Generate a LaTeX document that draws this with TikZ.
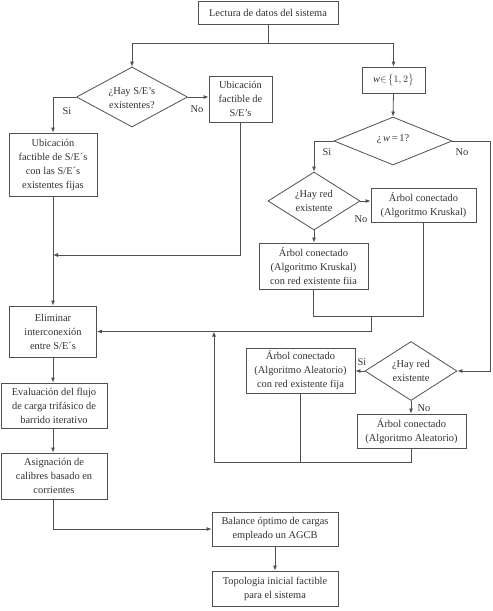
\documentclass[tikz,border=0pt]{standalone}
\usepackage{fontspec}
\setmainfont{Liberation Serif}
\usetikzlibrary{shapes.geometric,arrows.meta}
\newcommand{\myfs}{\fontsize{10.4}{14}\selectfont}
\definecolor{lc}{RGB}{80,80,80}
\definecolor{tc}{RGB}{50,50,50}
\tikzset{
  box/.style={draw=lc, line width=0.8pt, fill=white, text=tc, align=center, inner sep=0pt, font=\myfs},
  dia/.style={draw=lc, diamond, line width=0.8pt, inner sep=0pt, fill=white},
  lab/.style={text=tc, align=center, font=\myfs, inner sep=0pt},
  arr/.style={draw=lc, line width=0.8pt, -{Latex[length=5pt,width=4pt]}},
  ln/.style={draw=lc, line width=0.8pt},
}
\begin{document}
\begin{tikzpicture}[x=1pt,y=-1pt]
\useasboundingbox (0,0) rectangle (493,611);
% nodes
\node[box, minimum width=140pt, minimum height=23pt] (top) at (268,12.5) {Lectura de datos del sistema};
\node[dia, minimum width=111pt, minimum height=60pt] (d1) at (132,97) {};
\node[lab] (d1t) at (132,98) {¿Hay S/E’s\\existentes?};
\node[box, minimum width=63pt, minimum height=46pt] (ub) at (240.5,99) {Ubicación\\factible de\\S/E’s};
\node[box, minimum width=88pt, minimum height=63pt] (fija) at (53,164.5) {Ubicación\\factible de S/E´s\\con las S/E´s\\existentes fijas};
\node[box, minimum width=63pt, minimum height=26pt] (w) at (393.5,80) {\textit{w}$\in\!\big\{1,2\big\}$};
\node[dia, minimum width=118pt, minimum height=48pt] (d2) at (393,141) {};
\node[lab] (d2t) at (393,139) {¿\,\textit{w}\,=\,1?};
\node[dia, minimum width=92pt, minimum height=58pt] (d3) at (314,201) {};
\node[lab] (d3t) at (314,201) {¿Hay red\\existente};
\node[box, minimum width=105pt, minimum height=34pt] (kr) at (423.5,205) {Árbol conectado\\(Algoritmo Kruskal)};
\node[box, minimum width=109pt, minimum height=46pt] (krf) at (313.5,266) {Árbol conectado\\(Algoritmo Kruskal)\\con red existente fiia};
\node[box, minimum width=87pt, minimum height=51pt] (elim) at (53,331.5) {Eliminar\\interconexión\\entre S/E´s};
\node[dia, minimum width=92pt, minimum height=59pt] (d4) at (411,371) {};
\node[lab] (d4t) at (411,371) {¿Hay red\\existente};
\node[box, minimum width=109pt, minimum height=45pt] (alf) at (300.5,370.5) {Árbol conectado\\(Algoritmo Aleatorio)\\con red existente fija};
\node[box, minimum width=109pt, minimum height=34pt] (al) at (411.5,431) {Árbol conectado\\(Algoritmo Aleatorio)};
\node[box, minimum width=106pt, minimum height=45pt] (eva) at (54,405.5) {Evaluación del flujo\\de carga trifásico de\\barrido iterativo};
\node[box, minimum width=106pt, minimum height=46pt] (asig) at (54,476) {Asignación de\\calibres basado en\\corrientes};
\node[box, minimum width=126pt, minimum height=34pt] (bal) at (275,529) {Balance óptimo de cargas\\empleado un AGCB};
\node[box, minimum width=126pt, minimum height=35pt] (topo) at (275,588.5) {Topologia inicial factible\\para el sistema};
% coordinates
\coordinate (j1) at (268,43);
\coordinate (j2) at (53,255);
\coordinate (r1) at (490,141);
\coordinate (j3) at (371,316);
\coordinate (j4) at (214,462);
% connectors
\draw[ln] (top) -- (j1);
\draw[arr] (j1) -| (d1.north);
\draw[arr] (j1) -| (w.north);
\draw[arr] (d1.east) -- (d1.east -| ub.west);
\draw[arr] (d1.west) -| (fija.north);
\draw[arr] (ub.south) |- (j2);
\draw[arr] (fija.south) -- (elim.north);
\draw[arr] (w.south) -- (d2.north);
\draw[arr] (d2.west) -| (d3.north);
\draw[arr] (d2.east) -- (r1) |- (d4.east);
\draw[arr] (d3.east) -- (d3.east -| kr.west);
\draw[arr] (d3.south) -- (d3.south |- krf.north);
\draw[ln] (krf.south) |- (kr.south |- j3) -- (kr.south);
\draw[arr] (j3) |- (elim.east);
\draw[arr] (d4.west) -- (d4.west -| alf.east);
\draw[arr] (d4.south) -- (d4.south |- al.north);
\draw[ln] (al.south) |- (j4);
\draw[ln] (alf.south) -- (alf.south |- j4);
\draw[arr] (j4) -- (j4 |- elim.east);
\draw[arr] (elim.south) -- (elim.south |- eva.north);
\draw[arr] (elim.south |- eva.south) -- (elim.south |- asig.north);
\draw[arr] (elim.south |- asig.south) |- (bal.west);
\draw[arr] (bal.south) -- (topo.north);
% labels
\node[lab] (l1) at (197,109) {No};
\node[lab] (l2) at (67,111) {Si};
\node[lab] (l3) at (327,152) {Si};
\node[lab] (l4) at (462,152) {No};
\node[lab] (l5) at (361,219) {No};
\node[lab] (l6) at (362,362) {Si};
\node[lab] (l7) at (424,408) {No};
\end{tikzpicture}
\end{document}
